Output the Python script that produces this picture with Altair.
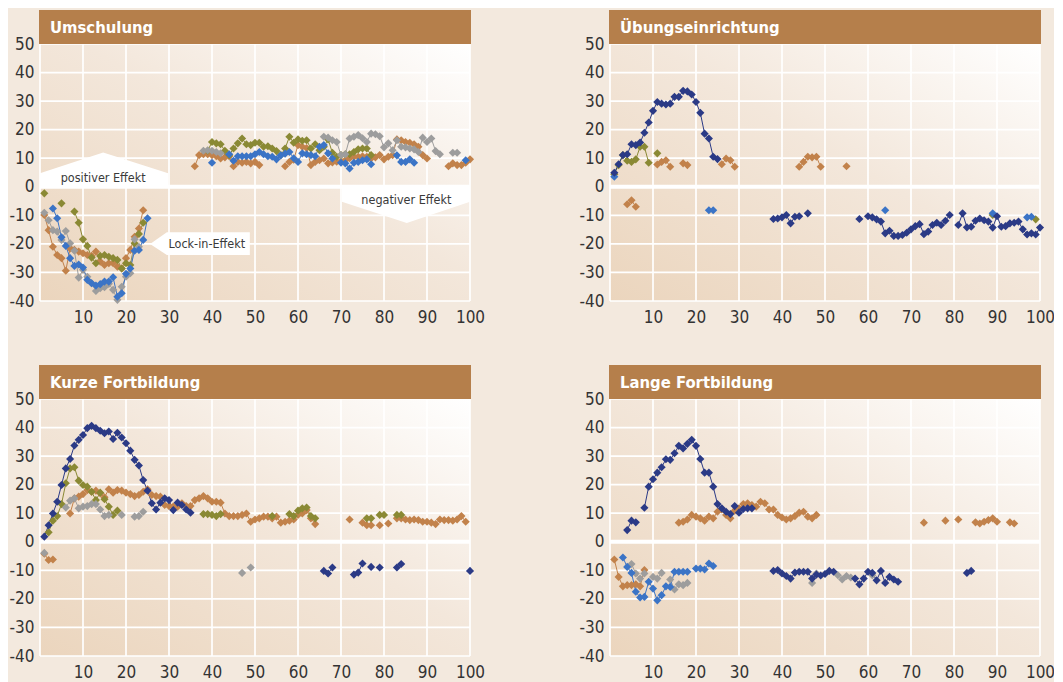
import altair as alt
import pandas as pd

FONT = "DejaVu Sans Condensed, Liberation Sans Narrow, DejaVu Sans, sans-serif"
COLORS = {"brown": "#c2824b", "olive": "#8a8934", "gray": "#9d9d9d",
          "blue": "#3b74c6", "navy": "#2b3a86"}
DRAW_ORDER = ["brown", "olive", "gray", "blue", "navy"]

X_TICKS = [0, 10, 20, 30, 40, 50, 60, 70, 80, 90, 100]
X_LABELS = [10, 20, 30, 40, 50, 60, 70, 80, 90, 100]
Y_TICKS = [-40, -30, -20, -10, 0, 10, 20, 30, 40, 50]

# Each series: list of runs (start x, consecutive values)
# ---- Umschulung
UMS_BLUE = [(3, [-7.6, -11, -17.7, -20.7, -25, -27.7, -27.2, -28.3, -32.6, -33.8, -34.6, -34.1,
                 -33.2, -33.2, -31.7, -38.5, -37.3, -30.5, -28.6, -22.4, -22.1, -18.6, -11]),
            (40, [8.4]),
            (44, [11.4, 9.1, 10.7, 10.7, 10.7, 10.7, 11.4, 12.2, 11.4, 10.7, 10.5, 9.6, 11.0, 11.6,
                  12.2, 10.0, 8.7, 11.7, 11.4, 11.1, 10.7, 14.0, 14.6, 11.7, 9.9]),
            (70, [8.4, 8.2, 6.4, 8.4, 8.7, 9.3, 9.6, 7.9]),
            (83, [11.0, 8.7, 8.7, 9.6, 8.4]),
            (99, [9.3])]
UMS_OLIVE = [(1, [-2.3]), (5, [-5.8]),
             (8, [-8.7, -12.6, -18.4, -20.7, -24.8, -26.8, -24.2, -23.9, -24.5, -25.0, -25.6, -28.6,
                  -26.8, -27.4, -19.8, -16.5, -12.6]),
             (39, [12.6, 15.7, 15.2, 14.9, 12.6, 11.1, 13.4, 15.2, 16.9, 14.9, 14.6, 15.4, 15.4, 14.0,
                   14.2, 13.4, 12.5, 11.1, 13.4, 17.5, 15.4, 16.6, 16.1, 16.3, 13.4, 14.9, 12.8, 14.0,
                   16.6, 11.9, 10.5, 11.1, 11.4, 11.4, 12.2, 13.1, 13.4, 13.4, 11.1])]
UMS_GRAY = [(1, [-9.1, -11.7, -15.2, -15.7, -18.6, -15.5, -19.8, -22.4, -31.8, -29.1, -31.5, -33.8,
                 -36.5, -35.5, -35.2, -34.0, -36.1, -39.6, -35.0, -31.5, -30.3, -18.4, -21.0]),
            (38, [12.6, 12.8, 12.6, 12.2, 11.7]),
            (66, [17.5, 17.2, 16.3, 15.7, 11.1, 11.4, 16.9, 17.5, 18.1, 17.0, 15.7, 18.6, 18.4, 17.7,
                  13.8, 15.2, 12.8, 16.3, 14.0, 13.8, 13.4, 13.1, 12.2, 17.2, 15.7, 16.9, 12.5, 11.4]),
            (96, [11.9, 11.9])]
UMS_BROWN = [(1, [-9.9, -15.2, -21.0, -23.9, -25.0, -29.4, -21.6, -22.1, -22.7, -23.3, -23.9, -24.2,
                  -22.7, -26.2, -27.4, -26.8, -26.8, -28.0, -28.6, -25.0, -22.1, -17.5, -14.6, -8.2]),
             (36, [7.2, 11.1, 11.4, 11.4, 11.1, 10.7, 9.9, 10.3, 10.7, 7.2, 8.7, 8.4, 8.7, 8.2, 8.7, 7.6]),
             (57, [7.2, 8.7, 9.5, 14.6, 14.0, 13.6, 7.6, 8.7, 9.3, 9.9, 8.2, 8.5, 8.8, 9.0, 9.3, 10.0,
                   10.5, 10.5, 10.7, 10.5, 9.9, 10.3, 11.1, 9.6, 10.5, 11.1, 16.6, 16.3, 15.7, 15.4,
                   14.9, 14.0, 11.1, 9.9]),
             (95, [7.2, 8.2, 7.6, 7.6, 8.4, 9.6])]

# ---- Übungseinrichtung
UEB_NAVY = [(1, [4.9, 7.9, 11.1, 11.4, 14.9, 14.6, 15.5, 18.9, 22.5, 26.6, 29.7, 29.1, 28.8, 29.1,
                 31.5, 31.5, 33.6, 33.4, 32.3, 29.7, 25.9, 18.6, 16.9, 10.5, 9.7]),
            (38, [-11.3, -11.1, -10.7, -9.9, -12.8, -10.5, -10.3]),
            (46, [-9.3]), (58, [-11.3]),
            (60, [-10.3, -10.7, -11.4, -12.2, -16.3, -15.4, -17.2, -17.2, -16.9, -16.1, -14.9, -13.8,
                  -13.1, -16.6, -15.7, -13.4, -12.6, -13.4, -11.9, -9.9]),
            (81, [-13.4, -9.3, -14.2, -14.0, -11.9, -11.1, -11.7, -12.2, -14.3, -10.3, -14.0, -13.8,
                  -12.8, -12.6, -12.2, -14.9, -16.7, -16.3, -16.7, -14.3])]
UEB_BLUE = [(1, [3.5]), (23, [-8.2, -8.2]), (64, [-8.2]), (89, [-9.3]), (97, [-10.7, -10.5])]
UEB_OLIVE = [(1, [4.4, 7.6, 11.1, 9.1, 8.7, 9.6, 14.0, 14.0, 8.4]), (11, [11.7]),
             (89, [-9.9]), (99, [-11.4])]
UEB_BROWN = [(4, [-6.1, -4.7, -7.0]), (11, [7.8, 8.7, 9.3, 7.0]), (17, [8.2, 7.6]),
             (26, [7.9, 9.9, 9.3, 7.0]), (44, [7.0, 8.7, 10.5, 10.3, 10.5, 7.0]), (55, [7.2])]
UEB_GRAY = []

# ---- Kurze Fortbildung
KUR_NAVY = [(1, [1.8, 5.8, 9.9, 14.0, 19.9, 25.7, 29.0, 33.7, 35.7, 37.4, 39.8, 40.6, 39.8, 38.9,
                 38.0, 38.6, 36.0, 38.2, 36.5, 34.5, 31.9, 28.7, 26.7, 21.6, 17.9, 13.5, 11.3, 13.7,
                 15.2, 14.6, 11.1, 13.7, 12.9, 11.3, 10.2]),
            (66, [-10.2, -11.1, -9.0]), (73, [-11.5, -10.8, -7.6]), (77, [-8.8]), (79, [-9.0]),
            (83, [-9.0, -7.8]), (100, [-10.2])]
KUR_OLIVE = [(2, [3.3, 7.4, 9.0, 13.2, 20.5, 25.7, 26.1, 21.4, 19.9, 19.3, 17.5, 14.6, 17.2, 14.9,
                  12.3, 9.4, 10.9]),
             (38, [9.7, 9.7, 9.4, 9.0, 9.7]), (54, [9.0]),
             (58, [9.7, 9.0, 10.9, 11.7, 12.0, 9.0, 8.2]), (76, [8.2, 8.2]), (79, [9.4, 9.4]),
             (83, [9.4, 9.4])]
KUR_GRAY = [(1, [-3.9]), (6, [12.0, 14.4, 15.2, 11.7, 12.3, 12.5, 13.2, 13.2, 11.3, 9.0, 9.4]),
            (19, [9.4]), (22, [8.8, 9.0, 10.5]), (47, [-10.9]), (49, [-9.0])]
KUR_BROWN = [(1, [-4.2, -6.4, -6.2]),
             (7, [9.9, 15.2, 15.8, 16.7, 18.1, 17.5, 17.9, 17.0, 15.6, 18.4, 17.2, 18.1, 17.9, 17.2,
                  16.7, 16.0, 16.4, 17.5, 18.4, 16.4, 16.0, 15.8, 12.9, 12.5, 12.3, 12.3, 13.5, 12.5,
                  12.5, 14.6, 15.2, 16.0, 15.2, 14.0, 14.0, 13.7, 9.9, 9.0, 9.0, 9.0, 9.4, 9.9, 7.0,
                  7.8, 8.2, 8.8, 8.8, 8.2, 8.8, 6.7, 7.0, 7.4, 7.8, 9.4, 9.9, 11.1, 8.2, 6.2]),
             (72, [7.8]), (75, [6.7, 5.8, 5.8]), (79, [5.8]), (81, [6.4]),
             (83, [8.2, 8.2, 7.8, 7.6, 7.8, 7.6, 7.0, 7.0, 6.7, 6.2, 7.8, 7.6, 7.6, 7.4, 7.8, 9.0, 7.0])]
KUR_BLUE = []

# ---- Lange Fortbildung
LAN_NAVY = [(4, [4.1, 7.4, 6.8]),
            (8, [11.9, 19.3, 21.9, 24.2, 26.1, 28.9, 28.7, 31.0, 33.6, 32.7, 34.3, 35.7, 33.6, 29.0,
                 24.2, 24.2, 19.3, 13.2, 11.7, 10.5, 9.7, 12.5, 10.2, 11.5, 11.7, 11.7]),
            (38, [-10.2, -9.9, -11.1, -12.0, -12.9, -10.8, -10.5, -10.5, -10.5, -12.9, -11.5, -11.8,
                  -11.3, -10.2, -10.5]),
            (57, [-12.9, -14.9, -12.9, -10.5, -10.9, -13.5, -10.2, -14.4, -12.3, -13.2, -14.0]),
            (83, [-10.9, -10.2])]
LAN_BROWN = [(1, [-6.2, -12.3, -15.6, -15.2, -15.2, -14.9, -15.6, -9.9]),
             (16, [6.7, 7.0, 7.8, 9.4, 8.8, 8.2, 7.4, 8.8, 8.2, 10.5, 11.3, 9.4, 8.2, 10.9, 11.7, 13.2,
                   13.5, 12.9, 12.3, 14.0, 13.5, 11.3, 11.3, 9.4, 8.5, 7.8, 8.2, 9.0, 10.2, 10.5, 8.8,
                   8.2, 9.4]),
             (73, [6.7]), (78, [7.4]), (81, [7.8]), (85, [6.8, 6.4, 7.0, 7.6, 8.2, 7.0]),
             (93, [6.8, 6.4])]
LAN_BLUE = [(3, [-5.5, -8.8, -10.9, -17.5, -19.5, -19.3, -14.0, -16.4, -20.5, -18.7, -15.6, -15.8,
                 -10.5, -10.5, -10.5, -10.5]),
            (20, [-9.4, -9.4, -9.7, -7.6, -8.5])]
LAN_GRAY = [(5, [-7.8, -11.1, -12.9, -11.1]), (10, [-12.3, -12.9, -10.9]),
            (14, [-13.2, -16.7, -14.9, -15.2, -14.4]), (47, [-14.4, -11.1]),
            (53, [-11.7, -13.2, -12.0, -12.5]), (61, [-11.7])]
LAN_OLIVE = []

# Annotation shapes (Umschulung), in data units
POS_X = [0, 14.7, 29.8]
POS_TOP = [4.7, 12.0, 4.7]
POS_BOT = [0.6, 0.6, 0.6]
NEG_X = [70.2, 85.3, 100]
NEG_TOP = [-0.4, -0.4, -0.4]
NEG_BOT = [-5.2, -12.7, -5.2]
LOCK_Y = [-15.9, -20.0, -23.9]
LOCK_LEFT = [29.5, 25.6, 29.5]
LOCK_RIGHT = [48.8, 48.8, 48.8]
NOTE_TEXT = ["positiver Effekt", "negativer Effekt", "Lock-in-Effekt"]
NOTE_X = [14.7, 85.2, 38.8]
NOTE_Y = [3.2, -4.6, -20.0]

W, H = 430, 257
XS = alt.Scale(domain=[0, 100], nice=False, zero=False)
YS = alt.Scale(domain=[-40, 50], nice=False, zero=False)
CS = alt.Scale(domain=list(COLORS.keys()), range=list(COLORS.values()))
AX = alt.Axis(values=X_LABELS, grid=False, ticks=False, domain=False, labelFont=FONT,
              labelFontSize=17, labelColor="#333333", labelPadding=8, labelFlush=False,
              labelOverlap=False, labelExpr="'' + datum.value", title=None)
AY = alt.Axis(values=Y_TICKS, grid=False, ticks=False, domain=False, labelFont=FONT,
              labelFontSize=17, labelColor="#333333", labelPadding=6, labelFlush=False,
              labelOverlap=False, labelExpr="'' + datum.value", title=None)
GRAD = {"gradient": "linear", "x1": 0, "y1": 1, "x2": 1, "y2": 0,
        "stops": [{"offset": 0, "color": "#ebd5bd"},
                  {"offset": 0.55, "color": "#f3e7db"},
                  {"offset": 1, "color": "#ffffff"}]}
ONE = pd.DataFrame({"k": [0]})


def X(field):
    return alt.X(field, scale=XS, axis=AX)


def Y(field):
    return alt.Y(field, scale=YS, axis=AY)


def build_df(series):
    rows = []
    for name in DRAW_ORDER:
        runs = series.get(name, [])
        for k, (start, vals) in enumerate(runs):
            for i, v in enumerate(vals):
                rows.append({"x": start + i, "y": v, "series": name, "seg": f"{name}-{k}"})
    return pd.DataFrame(rows, columns=["x", "y", "series", "seg"])


def panel(title, series, notes=False):
    df = build_df(series)
    # invisible frame fixing each panel's layout box
    frame = alt.Chart(ONE).mark_rect(fillOpacity=0, strokeOpacity=0).encode(
        x=alt.value(-44), x2=alt.value(W + 15), y=alt.value(-44), y2=alt.value(H + 34))
    bg = alt.Chart(ONE).mark_rect(fill=GRAD).encode(
        x=alt.value(0), x2=alt.value(W), y=alt.value(0), y2=alt.value(H))
    vgrid = alt.Chart(pd.DataFrame({"t": X_TICKS})).mark_rule(color="white", strokeWidth=1.7).encode(
        x=X("t:Q"))
    hgrid = alt.Chart(pd.DataFrame({"t": Y_TICKS})).mark_rule(color="white", strokeWidth=1.7).encode(
        y=Y("t:Q"))
    zero = alt.Chart(pd.DataFrame({"t": [0]})).mark_rule(color="white", strokeWidth=4).encode(
        y=Y("t:Q"))
    layers = [frame, bg, vgrid, hgrid, zero]
    if notes:
        pos = alt.Chart(pd.DataFrame({"x": POS_X, "a": POS_TOP, "b": POS_BOT})).mark_area(
            color="white", opacity=1).encode(x=X("x:Q"), y=Y("a:Q"), y2="b:Q")
        neg = alt.Chart(pd.DataFrame({"x": NEG_X, "a": NEG_TOP, "b": NEG_BOT})).mark_area(
            color="white", opacity=1).encode(x=X("x:Q"), y=Y("a:Q"), y2="b:Q")
        lock = alt.Chart(pd.DataFrame({"y": LOCK_Y, "a": LOCK_LEFT, "b": LOCK_RIGHT})).mark_area(
            color="white", opacity=1, orient="horizontal").encode(y=Y("y:Q"), x=X("a:Q"), x2="b:Q")
        txt = alt.Chart(pd.DataFrame({"x": NOTE_X, "y": NOTE_Y, "t": NOTE_TEXT})).mark_text(
            font=FONT, fontSize=12.5, color="#3a3a3a", align="center", baseline="middle").encode(
            x=X("x:Q"), y=Y("y:Q"), text="t:N")
        layers += [pos, neg, lock, txt]
    lines = alt.Chart(df).mark_line(strokeWidth=1, opacity=1).encode(
        x=X("x:Q"), y=Y("y:Q"),
        color=alt.Color("series:N", scale=CS, legend=None), detail="seg:N")
    pts = alt.Chart(df).mark_point(shape="diamond", filled=True, size=66, opacity=1).encode(
        x=X("x:Q"), y=Y("y:Q"),
        color=alt.Color("series:N", scale=CS, legend=None))
    bar = alt.Chart(ONE).mark_rect(color="#b57f4b").encode(
        x=alt.value(-1), x2=alt.value(W + 1), y=alt.value(-34), y2=alt.value(0))
    ttl = alt.Chart(ONE).mark_text(font=FONT, fontSize=16.5, fontWeight="bold", color="white",
                                   align="left", baseline="alphabetic").encode(
        x=alt.value(10), y=alt.value(-11), text=alt.value(title))
    layers += [lines, pts, bar, ttl]
    return alt.layer(*layers).properties(width=W, height=H)


p1 = panel("Umschulung", {"blue": UMS_BLUE, "olive": UMS_OLIVE, "gray": UMS_GRAY, "brown": UMS_BROWN},
           notes=True)
p2 = panel("Übungseinrichtung", {"navy": UEB_NAVY, "blue": UEB_BLUE, "olive": UEB_OLIVE,
                                 "brown": UEB_BROWN, "gray": UEB_GRAY})
p3 = panel("Kurze Fortbildung", {"navy": KUR_NAVY, "olive": KUR_OLIVE, "gray": KUR_GRAY,
                                 "brown": KUR_BROWN, "blue": KUR_BLUE})
p4 = panel("Lange Fortbildung", {"navy": LAN_NAVY, "brown": LAN_BROWN, "blue": LAN_BLUE,
                                 "gray": LAN_GRAY, "olive": LAN_OLIVE})

top = alt.hconcat(p1, p2, spacing=81)
bottom = alt.hconcat(p3, p4, spacing=81)
chart = alt.vconcat(top, bottom, spacing=20).properties(
    padding={"left": -12, "top": -8, "right": -1, "bottom": 0},
    background="#f3e9de",
).configure_view(strokeWidth=0)

chart.save("out.html", embed_options={"renderer": "svg", "actions": False})
